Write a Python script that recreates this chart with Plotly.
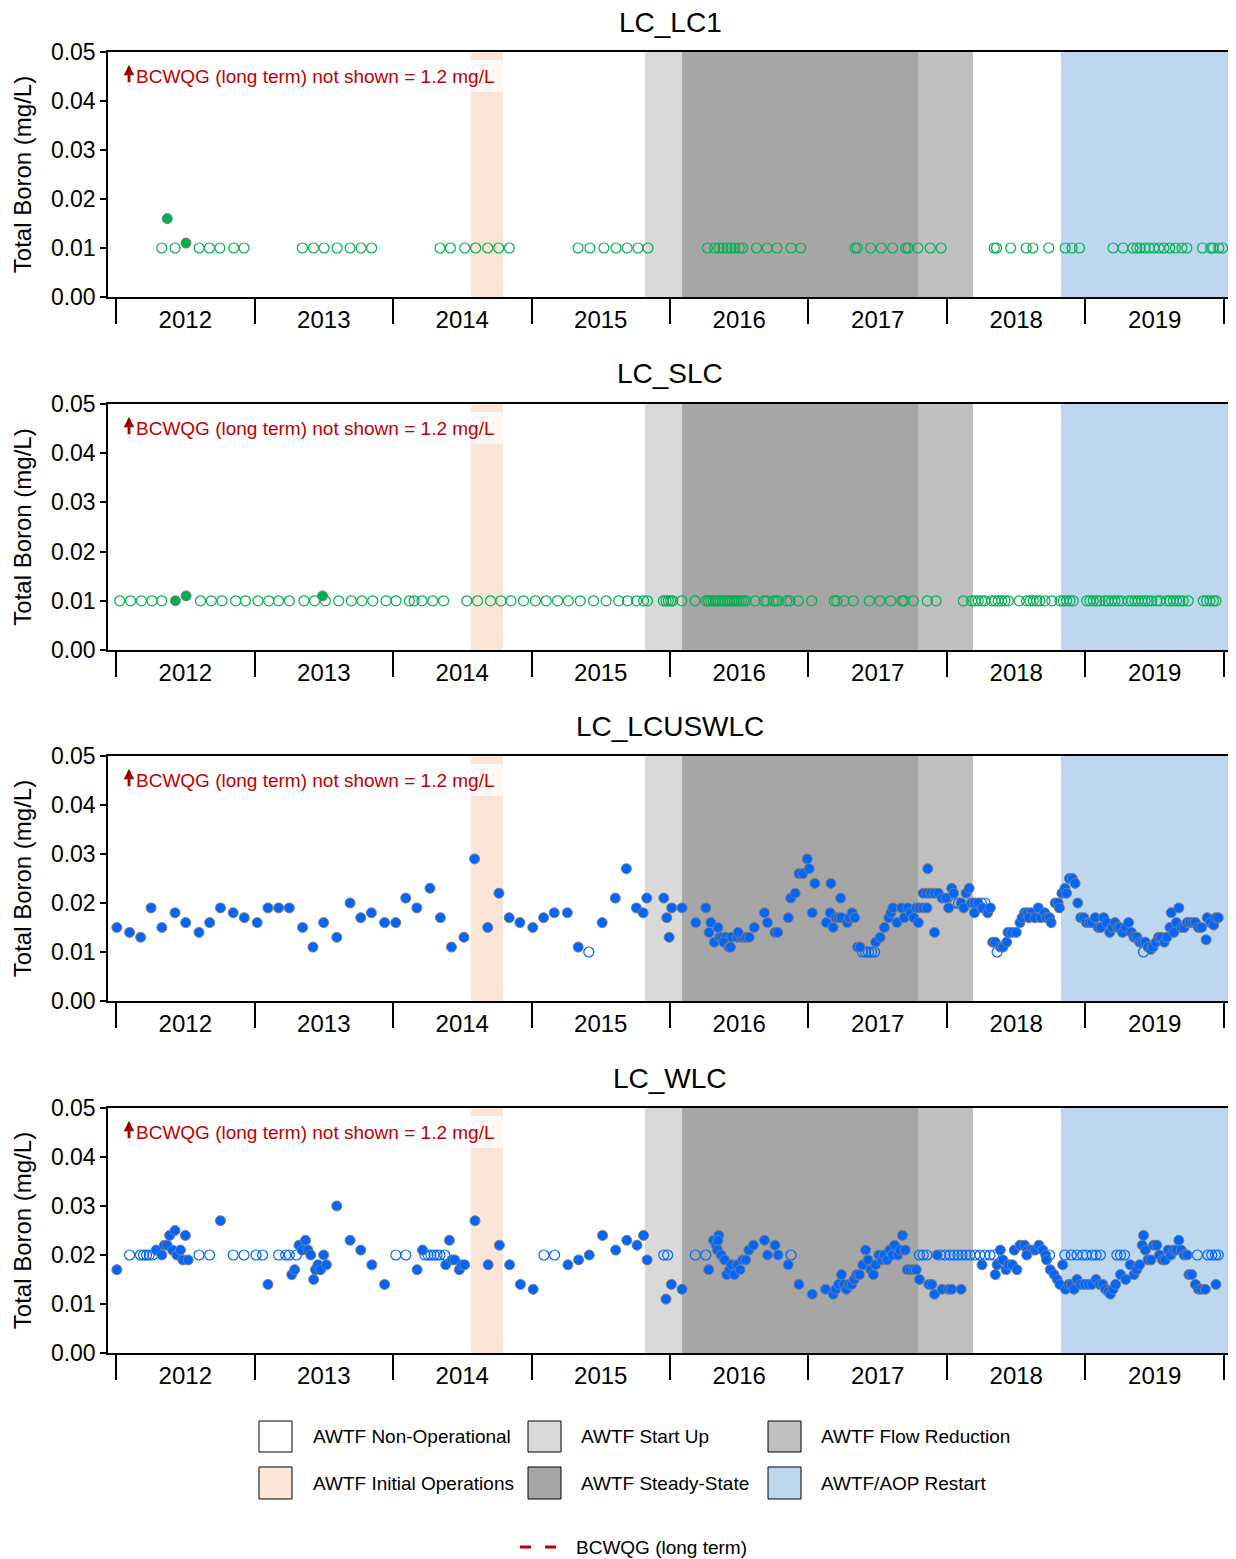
import plotly.graph_objects as go

# ---------------- data (decimal years, mg/L) ----------------
years = [2012, 2013, 2014, 2015, 2016, 2017, 2018, 2019]
panel_titles = ["LC_LC1", "LC_SLC", "LC_LCUSWLC", "LC_WLC"]

# LC_LC1
lc1_det_x = [2012.37, 2012.505]
lc1_det_y = [0.016, 0.011]
lc1_nd_x = [2012.33, 2012.426, 2012.60, 2012.674, 2012.75, 2012.85, 2012.924,
            2013.345, 2013.425, 2013.502, 2013.596, 2013.69, 2013.769, 2013.846,
            2014.339, 2014.414, 2014.518, 2014.597, 2014.684, 2014.763, 2014.84,
            2015.336, 2015.422, 2015.523, 2015.61, 2015.69, 2015.769, 2015.841,
            2016.27, 2016.323, 2016.353, 2016.383, 2016.412, 2016.44, 2016.469, 2016.5,
            2016.524, 2016.625, 2016.702, 2016.773, 2016.874, 2016.944,
            2017.336, 2017.353, 2017.448, 2017.524, 2017.607, 2017.702, 2017.72,
            2017.791, 2017.879, 2017.957,
            2018.341, 2018.358, 2018.46, 2018.572, 2018.62, 2018.735, 2018.853,
            2018.903, 2018.957,
            2019.199, 2019.271, 2019.342, 2019.371, 2019.395, 2019.43, 2019.46,
            2019.495, 2019.531, 2019.566, 2019.608, 2019.649, 2019.697, 2019.732,
            2019.845, 2019.904, 2019.921, 2019.963, 2019.99]
lc1_nd_y = [0.010] * len(lc1_nd_x)

# LC_SLC
slc_det_x = [2012.429, 2012.506, 2013.491]
slc_det_y = [0.010, 0.011, 0.011]
slc_nd_x = [2012.027, 2012.105, 2012.183, 2012.26, 2012.33, 2012.61, 2012.688, 2012.765,
            2012.864, 2012.934, 2013.025, 2013.103, 2013.173, 2013.251, 2013.357, 2013.434,
            2013.512, 2013.608, 2013.699, 2013.776, 2013.854, 2013.95, 2014.022, 2014.118,
            2014.152, 2014.209, 2014.287, 2014.365, 2014.533, 2014.611, 2014.704, 2014.779,
            2014.852, 2014.942, 2015.028, 2015.106, 2015.188, 2015.266, 2015.352, 2015.448,
            2015.539, 2015.63, 2015.694, 2015.759, 2015.809, 2015.837,
            2015.952, 2015.971, 2015.988, 2016.005, 2016.02, 2016.085, 2016.181, 2016.26,
            2016.277, 2016.294, 2016.313, 2016.33, 2016.347, 2016.363, 2016.381, 2016.397,
            2016.414, 2016.431, 2016.448, 2016.464, 2016.482, 2016.498, 2016.515, 2016.532,
            2016.549, 2016.614, 2016.679, 2016.698, 2016.746, 2016.765, 2016.782, 2016.843,
            2016.866, 2016.926, 2017.023, 2017.186, 2017.204, 2017.256, 2017.323, 2017.439,
            2017.516, 2017.594, 2017.675, 2017.69, 2017.757, 2017.858, 2017.921,
            2018.118, 2018.178, 2018.202, 2018.226, 2018.251, 2018.274, 2018.323, 2018.347,
            2018.37, 2018.395, 2018.419, 2018.443, 2018.522, 2018.575, 2018.599, 2018.623,
            2018.648, 2018.671, 2018.708, 2018.756, 2018.816, 2018.84, 2018.864, 2018.888,
            2018.912, 2019.009, 2019.032, 2019.056, 2019.081, 2019.105, 2019.141, 2019.165,
            2019.189, 2019.213, 2019.237, 2019.261, 2019.309, 2019.334, 2019.357, 2019.381,
            2019.406, 2019.43, 2019.453, 2019.478, 2019.514, 2019.538, 2019.586, 2019.61,
            2019.634, 2019.659, 2019.682, 2019.706, 2019.742, 2019.851, 2019.875, 2019.899,
            2019.923, 2019.942]
slc_nd_y = [0.010] * len(slc_nd_x)

# LC_LCUSWLC
us_det_x = [2012.006, 2012.098, 2012.178, 2012.253, 2012.331, 2012.426, 2012.503, 2012.599,
            2012.676, 2012.754, 2012.846, 2012.926, 2013.019, 2013.097, 2013.174, 2013.251,
            2013.347, 2013.422, 2013.499, 2013.594, 2013.69, 2013.767, 2013.844, 2013.939,
            2014.02, 2014.092, 2014.172, 2014.267, 2014.342, 2014.422, 2014.512, 2014.589,
            2014.684, 2014.765, 2014.839, 2014.916, 2015.009, 2015.087, 2015.164, 2015.259,
            2015.337, 2015.51, 2015.605, 2015.685, 2015.757, 2015.806, 2015.832,
            2015.955, 2015.977, 2015.994, 2016.012, 2016.087, 2016.186, 2016.259, 2016.282,
            2016.295, 2016.32, 2016.347, 2016.357, 2016.375, 2016.402, 2016.443, 2016.485,
            2016.512, 2016.531, 2016.553, 2016.572, 2016.388, 2016.424, 2016.437, 2016.492,
            2016.608, 2016.682, 2016.704, 2016.758, 2016.778, 2016.854, 2016.871, 2016.904,
            2016.931, 2016.959, 2016.991, 2017.005, 2017.027, 2017.046, 2017.129, 2017.156,
            2017.162, 2017.178, 2017.197, 2017.217, 2017.238, 2017.232, 2017.279, 2017.293,
            2017.315, 2017.334, 2017.354, 2017.372, 2017.485, 2017.518, 2017.548, 2017.581,
            2017.595, 2017.609, 2017.639, 2017.672, 2017.691, 2017.718, 2017.737, 2017.76,
            2017.778, 2017.801, 2017.793, 2017.828, 2017.855, 2017.861, 2017.828, 2017.855,
            2017.883, 2017.91, 2017.938, 2017.965, 2017.993, 2017.91, 2018.012, 2018.034,
            2018.048, 2018.102, 2018.121, 2018.138, 2018.16, 2018.176, 2018.198, 2018.225,
            2018.198, 2018.253, 2018.294, 2018.313, 2018.33, 2018.349, 2018.385, 2018.404,
            2018.431, 2018.44, 2018.467, 2018.5, 2018.527, 2018.542, 2018.56, 2018.582,
            2018.609, 2018.592, 2018.635, 2018.659, 2018.678, 2018.705, 2018.719, 2018.741,
            2018.752, 2018.781, 2018.803, 2018.811, 2018.83, 2018.852, 2018.863, 2018.884,
            2018.905, 2018.925, 2018.944,
            2018.966, 2018.988, 2019.007, 2019.029, 2019.048, 2019.07, 2019.092, 2019.111,
            2019.131, 2019.152, 2019.175, 2019.193, 2019.213, 2019.232, 2019.248, 2019.268,
            2019.29, 2019.311, 2019.331, 2019.35, 2019.372, 2019.391, 2019.41, 2019.433,
            2019.451, 2019.473, 2019.487, 2019.509, 2019.528, 2019.547, 2019.569, 2019.588,
            2019.61, 2019.619, 2019.638, 2019.657, 2019.674, 2019.692, 2019.712, 2019.734,
            2019.753, 2019.775, 2019.794, 2019.816, 2019.838, 2019.871, 2019.879, 2019.904,
            2019.926, 2019.942, 2019.959]
us_det_y = [0.015, 0.014, 0.013, 0.019, 0.015, 0.018, 0.016, 0.014,
            0.016, 0.019, 0.018, 0.017, 0.016, 0.019, 0.019, 0.019,
            0.015, 0.011, 0.016, 0.013, 0.020, 0.017, 0.018, 0.016,
            0.016, 0.021, 0.019, 0.023, 0.017, 0.011, 0.013, 0.029,
            0.015, 0.022, 0.017, 0.016, 0.015, 0.017, 0.018, 0.018,
            0.011, 0.016, 0.021, 0.027, 0.019, 0.018, 0.021,
            0.021, 0.017, 0.013, 0.019, 0.019, 0.016, 0.019, 0.014,
            0.016, 0.012, 0.015, 0.013, 0.013, 0.013, 0.013, 0.013,
            0.013, 0.013, 0.013, 0.013, 0.012, 0.011, 0.011, 0.014,
            0.015, 0.018, 0.016, 0.014, 0.014, 0.017, 0.021, 0.022,
            0.026, 0.026, 0.029, 0.027, 0.018, 0.024, 0.016, 0.018,
            0.024, 0.015, 0.017, 0.017, 0.017, 0.021, 0.016, 0.017,
            0.018, 0.017, 0.011, 0.011, 0.012, 0.013, 0.015, 0.017,
            0.018, 0.019, 0.016, 0.019, 0.017, 0.019, 0.018, 0.017,
            0.019, 0.019, 0.016, 0.019, 0.019, 0.027, 0.022, 0.022,
            0.022, 0.022, 0.022, 0.021, 0.021, 0.014, 0.019, 0.023,
            0.022, 0.020, 0.019, 0.022, 0.023, 0.020, 0.020, 0.020,
            0.018, 0.019, 0.018, 0.019, 0.012, 0.012, 0.011, 0.011,
            0.012, 0.014, 0.014, 0.014, 0.016, 0.017, 0.018, 0.018,
            0.018, 0.017, 0.017, 0.019, 0.017, 0.018, 0.017, 0.017,
            0.016, 0.020, 0.020, 0.019, 0.022, 0.023, 0.022, 0.025,
            0.025, 0.024, 0.020,
            0.017, 0.017, 0.016, 0.016, 0.016, 0.017, 0.015, 0.015,
            0.017, 0.016, 0.014, 0.015, 0.016, 0.015, 0.015, 0.014,
            0.015, 0.016, 0.014, 0.013, 0.013, 0.012, 0.012, 0.012,
            0.011, 0.0105, 0.011, 0.012, 0.013, 0.013, 0.012, 0.013,
            0.015, 0.018, 0.014, 0.016, 0.019, 0.015, 0.015, 0.016,
            0.016, 0.016, 0.016, 0.015, 0.015, 0.0125, 0.017, 0.016,
            0.0155, 0.017, 0.017]
us_nd_x = [2015.414, 2017.39, 2017.412, 2017.433, 2017.455, 2017.477, 2018.061, 2018.083,
           2018.248, 2018.275, 2018.362, 2019.419]
us_nd_y = [0.010, 0.010, 0.010, 0.010, 0.010, 0.010, 0.020, 0.020,
           0.020, 0.020, 0.010, 0.010]

# LC_WLC
wlc_det_x = [2012.006, 2012.29, 2012.331, 2012.349, 2012.369, 2012.387, 2012.408, 2012.426,
             2012.439, 2012.465, 2012.483, 2012.501, 2012.521, 2012.754, 2013.097, 2013.269,
             2013.29, 2013.321, 2013.344, 2013.368, 2013.386, 2013.406, 2013.427, 2013.44,
             2013.458, 2013.476, 2013.499, 2013.519, 2013.594, 2013.69, 2013.767, 2013.847,
             2013.939, 2014.174, 2014.213, 2014.381, 2014.407, 2014.425, 2014.445, 2014.479,
             2014.497, 2014.517, 2014.592, 2014.687, 2014.768, 2014.842, 2014.92, 2015.012,
             2015.263, 2015.34, 2015.417, 2015.513, 2015.608, 2015.688, 2015.762, 2015.809,
             2015.835,
             2015.971, 2016.01, 2016.087, 2016.279, 2016.314, 2016.334, 2016.352, 2016.346,
             2016.343, 2016.369, 2016.394, 2016.41, 2016.43, 2016.443, 2016.465, 2016.485,
             2016.506, 2016.526, 2016.547, 2016.569, 2016.602, 2016.682, 2016.704, 2016.758,
             2016.781, 2016.854, 2016.931, 2017.027, 2017.124, 2017.178, 2017.197, 2017.217,
             2017.238, 2017.255, 2017.274, 2017.293, 2017.313, 2017.329, 2017.348, 2017.368,
             2017.392, 2017.412, 2017.43, 2017.45, 2017.469, 2017.485, 2017.507, 2017.529,
             2017.548, 2017.567, 2017.587, 2017.606, 2017.622, 2017.645, 2017.661, 2017.678,
             2017.699, 2017.713, 2017.737, 2017.76, 2017.778, 2017.801, 2017.869, 2017.891,
             2017.91, 2017.929, 2017.965, 2018.012, 2018.034, 2018.102, 2018.253, 2018.349,
             2018.362, 2018.385, 2018.404, 2018.426, 2018.445, 2018.472, 2018.505, 2018.486,
             2018.527, 2018.56, 2018.582, 2018.609, 2018.637, 2018.664, 2018.692, 2018.713,
             2018.576, 2018.719, 2018.746, 2018.774, 2018.796, 2018.815, 2018.835, 2018.856,
             2018.879, 2018.898, 2018.917, 2018.939, 2018.966, 2018.994, 2019.021, 2019.048,
             2019.076, 2019.103, 2019.125, 2019.144, 2019.164, 2019.18, 2019.199, 2019.218,
             2019.253, 2019.29, 2019.323, 2019.35, 2019.37, 2019.391, 2019.41, 2019.419,
             2019.433, 2019.451, 2019.473, 2019.492, 2019.515, 2019.534, 2019.556, 2019.575,
             2019.597, 2019.616, 2019.638, 2019.657, 2019.674, 2019.692, 2019.712, 2019.734,
             2019.747, 2019.767, 2019.794, 2019.816, 2019.838, 2019.866, 2019.942]
wlc_det_y = [0.017, 0.021, 0.020, 0.022, 0.022, 0.024, 0.021, 0.025,
             0.020, 0.021, 0.019, 0.024, 0.019, 0.027, 0.014, 0.016,
             0.017, 0.022, 0.021, 0.023, 0.021, 0.020, 0.015, 0.017,
             0.018, 0.017, 0.020, 0.018, 0.030, 0.023, 0.021, 0.018,
             0.014, 0.017, 0.021, 0.018, 0.023, 0.019, 0.019, 0.017,
             0.018, 0.018, 0.027, 0.018, 0.022, 0.018, 0.014, 0.013,
             0.018, 0.019, 0.020, 0.024, 0.021, 0.023, 0.022, 0.024,
             0.019,
             0.011, 0.014, 0.013, 0.017, 0.023, 0.022, 0.024, 0.023,
             0.021, 0.020, 0.019, 0.016, 0.017, 0.018, 0.016, 0.018,
             0.017, 0.019, 0.019, 0.021, 0.022, 0.023, 0.020, 0.022,
             0.020, 0.018, 0.014, 0.012, 0.013, 0.012, 0.013, 0.014,
             0.016, 0.014, 0.013, 0.014, 0.014, 0.015, 0.016, 0.016,
             0.018, 0.021, 0.019, 0.017, 0.016, 0.018, 0.020, 0.019,
             0.020, 0.019, 0.021, 0.020, 0.022, 0.020, 0.021, 0.024,
             0.021, 0.017, 0.017, 0.017, 0.017, 0.015, 0.014, 0.014,
             0.012, 0.020, 0.013, 0.013, 0.013, 0.013, 0.018, 0.016,
             0.018, 0.021, 0.019, 0.017, 0.018, 0.018, 0.017, 0.021,
             0.022, 0.022, 0.021, 0.021, 0.021, 0.022, 0.021, 0.020,
             0.020, 0.019, 0.017, 0.016, 0.015, 0.014, 0.018, 0.013,
             0.014, 0.014, 0.013, 0.015, 0.014, 0.014, 0.014, 0.014,
             0.015, 0.014, 0.014, 0.013, 0.0125, 0.012, 0.013, 0.014,
             0.016, 0.015, 0.018, 0.016, 0.017, 0.018, 0.022, 0.024,
             0.021, 0.019, 0.019, 0.022, 0.022, 0.020, 0.019, 0.019,
             0.021, 0.020, 0.021, 0.021, 0.023, 0.021, 0.020, 0.020,
             0.016, 0.016, 0.014, 0.013, 0.013, 0.013, 0.014]
wlc_nd_x = [2012.098, 2012.176, 2012.199, 2012.22, 2012.24, 2012.266, 2012.599, 2012.676,
            2012.846, 2012.924, 2013.011, 2013.058, 2013.174, 2013.225, 2013.251, 2013.303,
            2014.02, 2014.092, 2014.231, 2014.253, 2014.274, 2014.296, 2014.318, 2014.339,
            2014.373, 2015.09, 2015.167, 2015.955, 2015.983, 2016.183, 2016.259, 2016.874,
            2017.801, 2017.828, 2017.855, 2017.952, 2017.986, 2018.022, 2018.051, 2018.079,
            2018.108, 2018.137, 2018.166, 2018.202, 2018.238, 2018.274, 2018.31, 2018.339,
            2018.741, 2018.851, 2018.898, 2018.939, 2018.98, 2019.007, 2019.048, 2019.076,
            2019.108, 2019.227, 2019.253, 2019.282, 2019.808, 2019.884, 2019.912, 2019.939,
            2019.959]
wlc_nd_y = [0.020] * len(wlc_nd_x)

# operational periods (decimal years)
period_names = ["AWTF Initial Operations", "AWTF Start Up", "AWTF Steady-State",
                "AWTF Flow Reduction", "AWTF/AOP Restart"]
period_start = [2014.563, 2015.819, 2016.087, 2017.791, 2018.823]
period_end = [2014.794, 2016.087, 2017.791, 2018.188, 2020.2]
period_colors = ["#FAE5D6", "#D9D9D9", "#A6A6A6", "#BFBFBF", "#BDD7EE"]

legend_names = ["AWTF Non-Operational", "AWTF Start Up", "AWTF Flow Reduction",
                "AWTF Initial Operations", "AWTF Steady-State", "AWTF/AOP Restart"]
legend_colors = ["#FFFFFF", "#D9D9D9", "#BFBFBF", "#FAE5D6", "#A6A6A6", "#BDD7EE"]

guideline_text = "BCWQG (long term) not shown = 1.2 mg/L"

# ---------------- figure ----------------
# page body has an 8px margin: figure is drawn 8px smaller and offset
OFF = 8
W, H = 1236 - OFF, 1559 - OFF
ML, MR = 108 - OFF, 4
PW = W - ML - MR  # plot width in px
FONT = "Liberation Sans, Arial, sans-serif"
GREEN = "#00B050"
BLUE = "#0066FF"


def px_x(x):  # reference page x -> paper fraction
    return (x - 108) / PW


def px_y(y):  # reference page y -> paper fraction
    return 1 - (y - OFF) / H


panels = [
    (lc1_det_x, lc1_det_y, lc1_nd_x, lc1_nd_y, GREEN),
    (slc_det_x, slc_det_y, slc_nd_x, slc_nd_y, GREEN),
    (us_det_x, us_det_y, us_nd_x, us_nd_y, BLUE),
    (wlc_det_x, wlc_det_y, wlc_nd_x, wlc_nd_y, BLUE),
]
panel_px = [(52, 297), (404, 650), (756, 1001), (1108, 1353)]

fig = go.Figure()
shapes = []
annotations = []
layout = {}

for i, (dx, dy, nx, ny, col) in enumerate(panels):
    n = i + 1
    xa = "x" if n == 1 else f"x{n}"
    ya = "y" if n == 1 else f"y{n}"
    top, bot = panel_px[i]
    fig.add_trace(go.Scatter(
        x=nx, y=ny, mode="markers", xaxis=xa, yaxis=ya, showlegend=False,
        marker=dict(symbol="circle-open", size=10, color=col, line=dict(width=1.2, color=col))))
    fig.add_trace(go.Scatter(
        x=dx, y=dy, mode="markers", xaxis=xa, yaxis=ya, showlegend=False,
        marker=dict(symbol="circle", size=10, color=col, line=dict(width=1, color="#7F7F7F"))))

    layout["xaxis" if n == 1 else f"xaxis{n}"] = dict(
        domain=[0, 1], anchor=ya, range=[2011.942, 2020.058],
        showline=True, linecolor="#000000", linewidth=1.5, mirror=True,
        showgrid=False, zeroline=False,
        tickmode="array", tickvals=[y + 0.5 for y in years], ticktext=[str(y) for y in years],
        ticks="outside", ticklen=0, tickcolor="rgba(0,0,0,0)",
        tickfont=dict(size=24, color="#000000", family=FONT),
        minor=dict(tickmode="array", tickvals=list(range(2012, 2021)), ticks="outside",
                   ticklen=25, tickwidth=1.5, tickcolor="#000000", showgrid=False),
        automargin=False,
    )
    layout["yaxis" if n == 1 else f"yaxis{n}"] = dict(
        domain=[px_y(bot), px_y(top)], anchor=xa, range=[0, 0.05],
        tickmode="array", tickvals=[0, 0.01, 0.02, 0.03, 0.04, 0.05], tickformat=".2f",
        ticks="outside", ticklen=6, tickwidth=1.5, tickcolor="#000000",
        showline=True, linecolor="#000000", linewidth=1.5, mirror=True,
        showgrid=False, zeroline=False,
        tickfont=dict(size=23, color="#000000", family=FONT),
        title=dict(text="Total Boron (mg/L)", font=dict(size=24, color="#000000", family=FONT),
                   standoff=12),
        automargin=False,
    )

    for s, e, c in zip(period_start, period_end, period_colors):
        shapes.append(dict(type="rect", xref=xa, yref=f"{ya} domain", x0=s, x1=e, y0=0, y1=1,
                           fillcolor=c, line=dict(width=0), layer="below"))
    shapes.append(dict(type="rect", xref=f"{xa} domain", yref=f"{ya} domain",
                       x0=0.0133, x1=0.3523, y0=0.8367, y1=0.9673,
                       fillcolor="rgba(255,255,255,0.72)", line=dict(width=0), layer="below"))
    annotations.append(dict(xref=f"{xa} domain", yref=f"{ya} domain", x=0.0232, y=0.902,
                            xanchor="left", yanchor="middle", text=guideline_text, showarrow=False,
                            font=dict(size=19, color="#C00000", family=FONT)))
    annotations.append(dict(xref=f"{xa} domain", yref=f"{ya} domain", x=0.0187, y=0.948,
                            text="", showarrow=True, ax=0, ay=19, arrowhead=2, arrowsize=0.75,
                            arrowwidth=2.8, arrowcolor="#A00000"))
    annotations.append(dict(xref="paper", yref="paper", x=0.5, y=px_y(top - 30),
                            xanchor="center", yanchor="middle", text=panel_titles[i],
                            showarrow=False, font=dict(size=28, color="#000000", family=FONT)))

# manual legend (reference page pixel layout)
box_x = [259, 528, 768]
text_x = [311, 579, 819]
row_y = [(1421, 1452), (1467, 1499)]
for k, (name, col) in enumerate(zip(legend_names, legend_colors)):
    r, c = divmod(k, 3)
    y0, y1 = row_y[r]
    shapes.append(dict(type="rect", xref="paper", yref="paper",
                       x0=px_x(box_x[c]), x1=px_x(box_x[c] + 33), y0=px_y(y1), y1=px_y(y0),
                       fillcolor=col, line=dict(width=1, color="#000000")))
    annotations.append(dict(xref="paper", yref="paper", x=px_x(text_x[c]), y=px_y((y0 + y1) / 2),
                            xanchor="left", yanchor="middle", text=name, showarrow=False,
                            font=dict(size=19, color="#000000", family=FONT)))
shapes.append(dict(type="line", xref="paper", yref="paper", x0=px_x(520), x1=px_x(556),
                   y0=px_y(1547), y1=px_y(1547),
                   line=dict(color="#C00000", width=3, dash="11px,14px")))
annotations.append(dict(xref="paper", yref="paper", x=px_x(574), y=px_y(1547),
                        xanchor="left", yanchor="middle", text="BCWQG (long term)",
                        showarrow=False, font=dict(size=19, color="#000000", family=FONT)))

fig.update_layout(
    width=W, height=H,
    margin=dict(l=ML, r=MR, t=0, b=0, pad=0),
    paper_bgcolor="#FFFFFF", plot_bgcolor="rgba(0,0,0,0)",
    font=dict(family=FONT, color="#000000"),
    showlegend=False,
    shapes=shapes, annotations=annotations,
    **layout,
)

fig.write_html("out.html")
